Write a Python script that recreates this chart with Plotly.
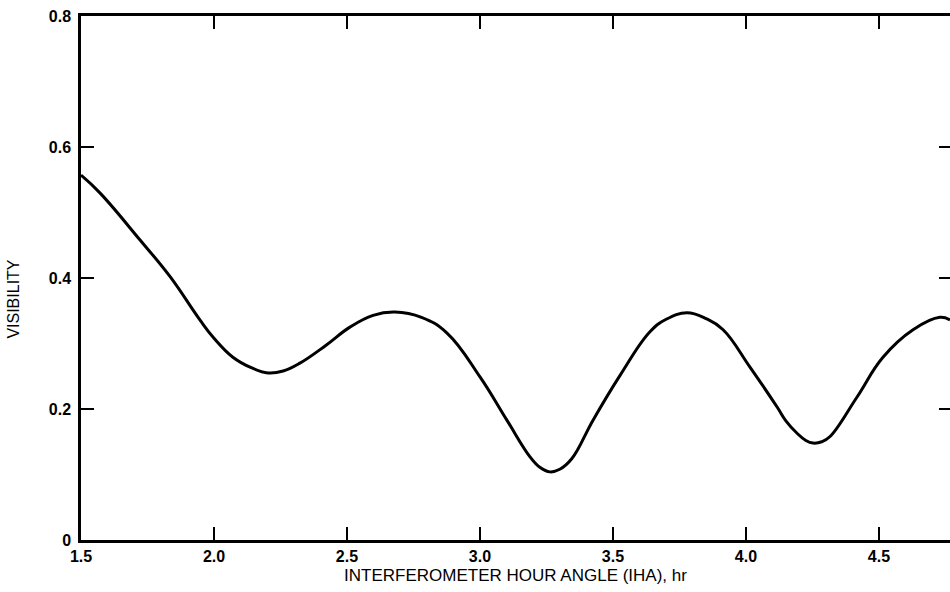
import plotly.graph_objects as go

# Data
iha_hr = [1.5, 1.571, 1.722, 1.835, 1.947, 2.0, 2.071, 2.14, 2.203, 2.26, 2.323, 2.42, 2.511,
          2.598, 2.68, 2.78, 2.876, 3.0, 3.101, 3.188, 3.225, 3.263, 3.30, 3.345, 3.425, 3.526,
          3.639, 3.70, 3.778, 3.85, 3.914, 4.015, 4.117, 4.15, 4.192, 4.225, 4.252, 4.285,
          4.316, 4.417, 4.515, 4.628, 4.729, 4.767]
visibility = [0.557, 0.530, 0.458, 0.402, 0.336, 0.308, 0.279, 0.263, 0.255, 0.258, 0.270, 0.297,
              0.325, 0.343, 0.348, 0.340, 0.316, 0.249, 0.183, 0.127, 0.111, 0.104, 0.108, 0.124,
              0.183, 0.251, 0.318, 0.337, 0.347, 0.338, 0.321, 0.264, 0.203, 0.182, 0.163, 0.152,
              0.148, 0.150, 0.158, 0.218, 0.279, 0.321, 0.340, 0.336]

x_tickvals = [1.5, 2.0, 2.5, 3.0, 3.5, 4.0, 4.5]
x_ticktext = ["1.5", "2.0", "2.5", "3.0", "3.5", "4.0", "4.5"]
y_tickvals = [0, 0.2, 0.4, 0.6, 0.8]
y_ticktext = ["0", "0.2", "0.4", "0.6", "0.8"]

FONT = "Liberation Sans, Arial, sans-serif"

fig = go.Figure()
fig.add_trace(go.Scatter(
    x=iha_hr, y=visibility, mode="lines",
    line=dict(color="black", width=3, shape="spline", smoothing=1.2),
    showlegend=False, hoverinfo="skip",
))
# invisible trace to activate the right-side tick axis
fig.add_trace(go.Scatter(
    x=iha_hr, y=visibility, mode="lines", yaxis="y2",
    line=dict(color="rgba(0,0,0,0)", width=0),
    showlegend=False, hoverinfo="skip",
))

fig.update_layout(
    width=950, height=592,
    margin=dict(l=81, r=0, t=16, b=52),
    paper_bgcolor="white", plot_bgcolor="white",
    font=dict(family=FONT, color="black"),
    xaxis=dict(
        range=[1.5, 4.767], tickvals=x_tickvals, ticktext=x_ticktext,
        ticks="inside", ticklen=13, tickwidth=2, tickcolor="black",
        showline=True, linecolor="black", linewidth=2.5, mirror="ticks",
        showgrid=False, zeroline=False,
        tickfont=dict(size=16, family=FONT, weight="bold"),
        title=dict(text="INTERFEROMETER HOUR ANGLE (IHA), hr",
                   font=dict(size=17, family=FONT), standoff=6),
    ),
    yaxis=dict(
        range=[0, 0.8], tickvals=y_tickvals, ticktext=y_ticktext,
        ticks="inside", ticklen=13, tickwidth=2, tickcolor="black",
        showline=True, linecolor="black", linewidth=2.5, mirror=False,
        showgrid=False, zeroline=False, ticklabelstandoff=4,
        tickfont=dict(size=16, family=FONT, weight="bold"),
    ),
    yaxis2=dict(
        range=[0, 0.8], tickvals=[0.2, 0.4, 0.6], overlaying="y", side="right",
        anchor="x", ticks="inside", ticklen=11, tickwidth=2, tickcolor="black",
        showticklabels=False, showline=False, showgrid=False, zeroline=False,
    ),
    annotations=[dict(
        text="VISIBILITY", textangle=-90, showarrow=False,
        xref="paper", yref="paper", x=-0.0775, y=0.46,
        xanchor="center", yanchor="middle",
        font=dict(size=16, family=FONT),
    )],
)

fig.write_html("out.html")
